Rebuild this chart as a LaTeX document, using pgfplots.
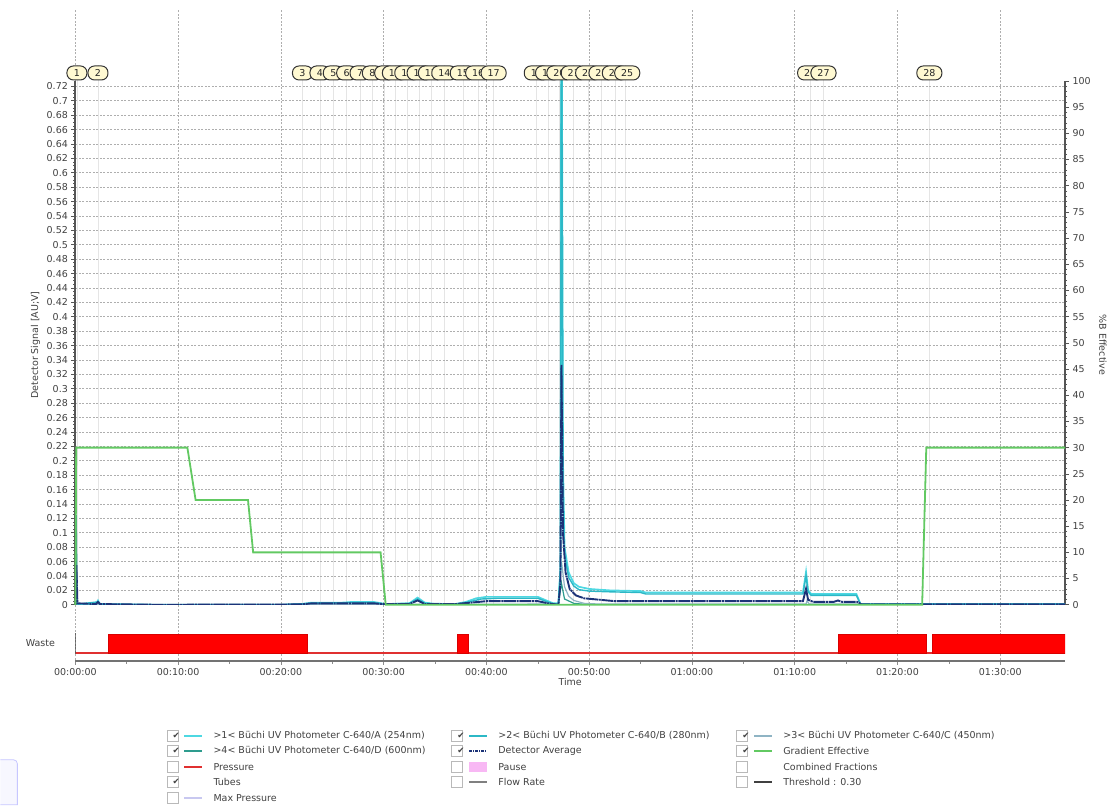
\documentclass[border=0pt]{standalone}
\usepackage{pgfplots}
\pgfplotsset{compat=1.18}
\usepackage{fontspec}
\setmainfont{DejaVu Sans}
\definecolor{cA}{HTML}{4ED8E2}
\definecolor{cB}{HTML}{2CB8C6}
\definecolor{cC}{HTML}{8FB4C4}
\definecolor{cD}{HTML}{2E9C8E}
\definecolor{cAvg}{HTML}{1C3378}
\definecolor{cGrad}{HTML}{62C962}
\definecolor{cRedLine}{HTML}{E03030}
\definecolor{gridc}{HTML}{AEAEAE}
\definecolor{axisc}{HTML}{555555}
\definecolor{textc}{HTML}{404040}
\definecolor{pillc}{HTML}{FFF9D2}
\definecolor{pinkc}{HTML}{F8B8F4}
\definecolor{lavc}{HTML}{C8C8F0}
\tikzset{pill/.style={draw=black!80, line width=1pt, fill=pillc, rounded corners=6.5pt,
  minimum height=14pt, minimum width=20pt, inner xsep=6.5pt, inner ysep=1pt,
  font=\fontsize{9.5}{9.5}\selectfont, text=black!85, yshift=8pt}}
\newcommand\tfont{\fontsize{9.5}{10}\selectfont}
\newcommand\chk[3]{%
  \draw[gray!55, fill=white, line width=0.6pt] (#1-5.5,#2-5.5) rectangle (#1+5.5,#2+5.5);
  \ifnum#3=1 \node[inner sep=0pt] at (#1,#2) {\fontsize{8.5}{8.5}\selectfont ✔};\fi}
\begin{document}
\begin{tikzpicture}
\path (0pt,0pt) rectangle (1110pt,805pt);
% background vertical grid + fraction lines
\begin{axis}[at={(75pt,145pt)}, anchor=south west, scale only axis, width=990pt, height=650pt,
  xmin=0, xmax=96.3, ymin=0, ymax=1, axis line style={draw=none}, tick style={draw=none},
  xtick={0,10,...,90}, xticklabels={}, ytick=\empty, xmajorgrids,
  major grid style={gridc, dash pattern=on 2pt off 1.5pt, line width=0.7pt}]
\addplot[draw=none] coordinates {(0,0.5)};
\pgfplotsinvokeforeach{0.15,2.2,22.1,23.8,25.1,26.4,27.7,28.9,30.1,31.1,32.3,33.5,34.6,35.9,37.7,39.2,40.7,44.9,46.0,47.1,48.5,49.9,51.2,52.5,53.5,71.5,72.8,83.1}{
  \draw[black!10, line width=0.6pt] (axis cs:#1,0.0846) -- (axis cs:#1,0.9154);}
\end{axis}
% main axis (detector signal)
\begin{axis}[at={(75pt,200pt)}, anchor=south west, scale only axis, width=990pt, height=524pt,
  xmin=0, xmax=96.3, ymin=0, ymax=0.7275,
  separate axis lines, x axis line style={draw=none}, y axis line style={draw=axisc, line width=2pt},
  xtick=\empty, ytick distance=0.02, minor y tick num=3, ytick pos=left,
  ymajorgrids, major grid style={gridc, dash pattern=on 2pt off 1.5pt, line width=0.6pt},
  tick align=outside, major tick length=4pt, minor tick length=2pt,
  tick style={axisc, line width=0.6pt},
  yticklabel style={font=\tfont, text=textc},
  /pgf/number format/fixed, /pgf/number format/precision=2, /pgf/number format/assume math mode=true]
\addplot[cD, line width=1.2pt] coordinates {(0,0) (0.08,0.125) (0.18,0.002) (0.4,0.0) (47.0,0.0) (47.3,0.03) (47.6,0.008) (48.5,0.002) (50,0.0) (96.3,0.0)};
\addplot[cC, line width=1.2pt] coordinates {(0,0) (47.0,0.001) (47.3,0.06) (47.6,0.025) (48,0.012) (48.5,0.006) (49.5,0.002) (51,0.001) (71.1,0.001) (71.2,0.006) (71.4,0.001) (96.3,0.001)};
\addplot[cA, line width=1.7pt] coordinates {(0,0) (0.05,0.003) (0.15,0.002) (0.3,0.001) (2.0,0.001) (2.2,0.006) (2.4,0.001) (8,0.0) (15,0.0) (20,0.0) (22,0.001) (23,0.003) (26,0.003) (27,0.004) (29,0.004) (29.8,0.002) (30.2,0.001) (32.5,0.002) (33.3,0.01) (34,0.003) (35,0.001) (37,0.001) (38,0.004) (39,0.009) (40,0.011) (42,0.011) (45,0.011) (45.5,0.008) (46.5,0.002) (47.0,0.002) (47.2,0.05) (47.3,1.0) (47.45,0.2) (47.6,0.08) (48,0.045) (48.5,0.03) (49,0.025) (50,0.022) (51,0.021) (52,0.020) (55,0.019) (55.5,0.017) (65,0.017) (70.8,0.017) (71.1,0.046) (71.3,0.02) (71.6,0.015) (75,0.015) (76.0,0.015) (76.4,0.001) (80,0.001) (96.3,0.001)};
\addplot[cB, line width=1.4pt] coordinates {(0,0) (0.1,0.002) (0.3,0.001) (2.2,0.004) (2.4,0.001) (8,0) (20,0) (23,0.002) (27,0.003) (29,0.003) (30,0.001) (32.5,0.002) (33.3,0.008) (34,0.002) (37,0.001) (38,0.003) (39.5,0.008) (41,0.009) (45,0.009) (46.3,0.002) (47.0,0.001) (47.2,0.05) (47.3,0.95) (47.45,0.15) (47.6,0.07) (48,0.038) (48.5,0.026) (49,0.021) (50,0.019) (52,0.018) (55,0.017) (55.5,0.015) (70.8,0.015) (71.1,0.04) (71.3,0.018) (71.6,0.013) (76,0.013) (76.4,0.001) (96.3,0.001)};
\addplot[cAvg, line width=1.9pt, dash pattern=on 12pt off 0.7pt on 2pt off 0.7pt] coordinates {(0,0) (0.1,0.055) (0.2,0.002) (2.0,0.001) (2.2,0.004) (2.4,0.001) (8,0) (22,0.0005) (23,0.002) (29,0.002) (30,0.001) (32.5,0.001) (33.3,0.006) (34,0.001) (37,0.001) (38.5,0.003) (40,0.005) (45,0.005) (46,0.002) (47.0,0.0) (47.2,0.03) (47.3,0.333) (47.45,0.1) (47.7,0.045) (48.1,0.022) (48.7,0.013) (49.5,0.009) (51,0.007) (52.5,0.005) (70.8,0.005) (71.1,0.022) (71.3,0.007) (71.8,0.004) (73.8,0.004) (74.2,0.006) (74.6,0.004) (76.1,0.004) (76.5,0.0005) (96.3,0.0005)};
\end{axis}
% right axis: gradient
\begin{axis}[at={(75pt,200pt)}, anchor=south west, scale only axis, width=990pt, height=524pt,
  xmin=0, xmax=96.3, ymin=0, ymax=100, clip=false,
  axis line style={draw=none}, xtick=\empty, ytick distance=5, minor y tick num=4, ytick pos=right,
  tick align=outside, major tick length=4pt, minor tick length=2pt,
  tick style={axisc, line width=0.6pt},
  yticklabel style={font=\tfont, text=textc},
  /pgf/number format/assume math mode=true]
\addplot[cGrad, line width=1.8pt] coordinates {(0,0) (0.08,30) (10.9,30) (11.7,20) (16.8,20) (17.3,10) (29.7,10) (30.2,0) (82.4,0) (82.8,30) (96.3,30)};
\node[pill] at (axis cs:0.15,100) {1};
\node[pill] at (axis cs:2.2,100) {2};
\node[pill] at (axis cs:22.1,100) {3};
\node[pill] at (axis cs:23.8,100) {4};
\node[pill] at (axis cs:25.1,100) {5};
\node[pill] at (axis cs:26.4,100) {6};
\node[pill] at (axis cs:27.7,100) {7};
\node[pill] at (axis cs:28.9,100) {8};
\node[pill] at (axis cs:30.1,100) {9};
\node[pill] at (axis cs:31.1,100) {10};
\node[pill] at (axis cs:32.3,100) {11};
\node[pill] at (axis cs:33.5,100) {12};
\node[pill] at (axis cs:34.6,100) {13};
\node[pill] at (axis cs:35.9,100) {14};
\node[pill] at (axis cs:37.7,100) {15};
\node[pill] at (axis cs:39.2,100) {16};
\node[pill] at (axis cs:40.7,100) {17};
\node[pill] at (axis cs:44.9,100) {18};
\node[pill] at (axis cs:46.0,100) {19};
\node[pill] at (axis cs:47.1,100) {20};
\node[pill] at (axis cs:48.5,100) {21};
\node[pill] at (axis cs:49.9,100) {22};
\node[pill] at (axis cs:51.2,100) {23};
\node[pill] at (axis cs:52.5,100) {24};
\node[pill] at (axis cs:53.7,100) {25};
\node[pill] at (axis cs:71.5,100) {26};
\node[pill] at (axis cs:72.8,100) {27};
\node[pill] at (axis cs:83.1,100) {28};
\end{axis}
% waste lane with time axis
\begin{axis}[at={(75pt,144pt)}, anchor=south west, scale only axis, width=990pt, height=31pt,
  xmin=0, xmax=96.3, ymin=-0.42, ymax=1.21,
  axis x line*=bottom, axis y line=none,
  x axis line style={-, draw=black!55, line width=1.8pt},
  xtick={0,10,...,90}, minor x tick num=1,
  xticklabels={00:00:00,00:10:00,00:20:00,00:30:00,00:40:00,00:50:00,01:00:00,01:10:00,01:20:00,01:30:00},
  tick align=outside, major tick length=4pt, minor tick length=3pt,
  tick style={black!45, line width=0.6pt},
  xticklabel style={font=\tfont, text=textc},
  xlabel={Time}, xlabel style={font=\tfont, text=textc, yshift=4pt}]
\addplot[cRedLine, line width=2pt] coordinates {(0,0) (96.3,0)};
\addplot[fill=red, draw=red!85!black, line width=0.5pt] coordinates {(3.21,0) (3.21,1) (22.57,1) (22.57,0)} -- cycle;
\addplot[fill=red, draw=red!85!black, line width=0.5pt] coordinates {(37.15,0) (37.15,1) (38.22,1) (38.22,0)} -- cycle;
\addplot[fill=red, draw=red!85!black, line width=0.5pt] coordinates {(74.2,0) (74.2,1) (82.8,1) (82.8,0)} -- cycle;
\addplot[fill=red, draw=red!85!black, line width=0.5pt] coordinates {(83.35,0) (83.35,1) (96.3,1) (96.3,0)} -- cycle;
\addplot[black!75, line width=1.8pt] coordinates {(0,-0.05) (0,1.05)};
\end{axis}
\begin{scope}[x=1pt,y=1pt]
\draw[draw=blue!22, fill=blue!3, line width=0.8pt] (0,45) -- (13,45) to[out=0,in=90] (17,41) -- (17,0) -- (0,0);
\node[rotate=90, font=\tfont, text=textc] at (35,460) {Detector Signal [AU;V]};
\node[rotate=-90, font=\tfont, text=textc] at (1103,460) {\%B Effective};
\node[font=\tfont, text=textc] at (40,162) {Waste};
\begin{scope}[every node/.style={font=\tfont, text=textc, anchor=west, inner sep=0pt}]
\chk{172}{69}{1} \draw[cA, line width=1.6pt] (184,69) -- (202,69); \node at (213,69) {>1< Büchi UV Photometer C-640/A (254nm)};
\chk{172}{54}{1} \draw[cD, line width=1.6pt] (184,54) -- (202,54); \node at (213,54) {>4< Büchi UV Photometer C-640/D (600nm)};
\chk{172}{38}{0} \draw[cRedLine, line width=1.6pt] (184,38) -- (202,38); \node at (213,38) {Pressure};
\chk{172}{23}{1} \node at (213,23) {Tubes};
\chk{172}{7}{0} \draw[lavc, line width=1.6pt] (184,7) -- (202,7); \node at (213,7) {Max Pressure};
\chk{457}{69}{1} \draw[cB, line width=1.6pt] (469,69) -- (487,69); \node at (498,69) {>2< Büchi UV Photometer C-640/B (280nm)};
\chk{457}{54}{1} \draw[cAvg, line width=1.6pt, dash pattern=on 3pt off 1pt on 1pt off 1pt] (469,54) -- (487,54); \node at (498,54) {Detector Average};
\chk{457}{38}{0} \fill[pinkc] (469,33) rectangle (487,43); \node at (498,38) {Pause};
\chk{457}{23}{0} \draw[gray, line width=1.6pt] (469,23) -- (487,23); \node at (498,23) {Flow Rate};
\chk{742}{69}{1} \draw[cC, line width=1.6pt] (754,69) -- (772,69); \node at (783,69) {>3< Büchi UV Photometer C-640/C (450nm)};
\chk{742}{54}{1} \draw[cGrad, line width=1.6pt] (754,54) -- (772,54); \node at (783,54) {Gradient Effective};
\chk{742}{38}{0} \node at (783,38) {Combined Fractions};
\chk{742}{23}{0} \draw[black!75, line width=1.6pt] (754,23) -- (772,23); \node at (783,23) {Threshold : 0.30};
\end{scope}
\end{scope}
\end{tikzpicture}
\end{document}
